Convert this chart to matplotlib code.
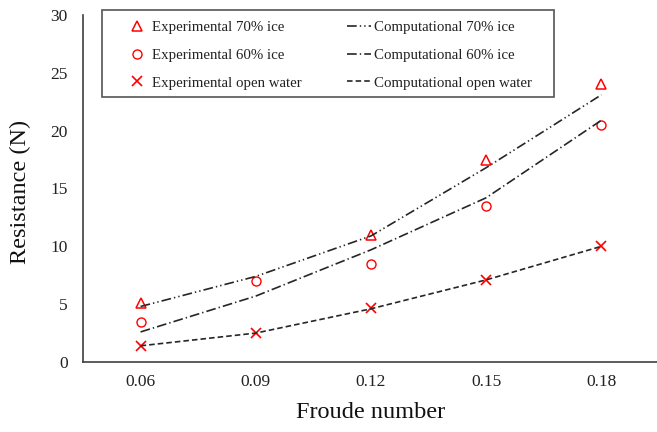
import numpy as np
import matplotlib.pyplot as plt
from matplotlib.patches import Rectangle

# data
froude = ['0.06', '0.09', '0.12', '0.15', '0.18']
exp_70 = [5.1, np.nan, 11.0, 17.5, 24.0]
exp_60 = [3.5, 7.0, 8.5, 13.5, 20.5]
exp_ow = [1.4, 2.5, 4.7, 7.1, 10.0]
comp_70 = [4.8, 7.4, 10.9, 16.8, 23.1]
comp_60 = [2.6, 5.7, 9.7, 14.2, 20.9]
comp_ow = [1.4, 2.5, 4.6, 7.1, 10.0]

plt.rcParams['font.family'] = ['Liberation Serif', 'DejaVu Serif']
plt.rcParams['lines.scale_dashes'] = False

fig = plt.figure(figsize=(6.57, 4.32), dpi=100, facecolor='white')
ax = fig.add_axes([83 / 657, 1 - 362 / 432, 576 / 657, 347 / 432])

x = np.arange(len(froude))
line_c = '#262626'
red = '#FF0000'

h_e70, = ax.plot(x, exp_70, linestyle='none', marker='^', ms=7, mfc='none', mec=red, mew=1.1)
h_e60, = ax.plot(x, exp_60, linestyle='none', marker='o', ms=6.5, mfc='none', mec=red, mew=1.0)
h_eow, = ax.plot(x, exp_ow, linestyle='none', marker='x', ms=7, color=red, mew=1.2)

h_c70, = ax.plot(x, comp_70, color=line_c, lw=1.2, dashes=(7, 2.2, 1, 2.2, 1, 2.2))
h_c60, = ax.plot(x, comp_60, color=line_c, lw=1.2, dashes=(7, 2.2, 1, 2.2))
h_cow, = ax.plot(x, comp_ow, color=line_c, lw=1.2, dashes=(4, 2.2))

ax.set_xlim(-0.5, 4.5)
ax.set_ylim(0, 30)
ax.set_xticks(x)
ax.set_xticklabels(froude)
ax.set_yticks(np.arange(0, 31, 5))
ax.tick_params(axis='both', length=0, labelsize=12.5, colors='#222222')
ax.tick_params(axis='y', pad=11)
ax.tick_params(axis='x', pad=9)

for side in ['top', 'right']:
    ax.spines[side].set_visible(False)
for side in ['left', 'bottom']:
    ax.spines[side].set_color('#404040')
    ax.spines[side].set_linewidth(1.2)

fig.text(20 / 657, 1 - 192 / 432, 'Resistance (N)', rotation=90, fontsize=17.5,
         ha='center', va='center', color='#111111')
fig.text(371 / 657, 1 - 413 / 432, 'Froude number', fontsize=17.5,
         ha='center', va='center', color='#111111')

leg = fig.legend([h_e70, h_e60, h_eow, h_c70, h_c60, h_cow],
                 ['Experimental 70% ice', 'Experimental 60% ice', 'Experimental open water',
                  'Computational 70% ice', 'Computational 60% ice', 'Computational open water'],
                 ncol=2, loc='upper left', bbox_to_anchor=(125 / 657, 1 - 20.5 / 432),
                 frameon=False, fontsize=10.7, borderpad=0, borderaxespad=0,
                 handlelength=1.6, handletextpad=0.25, labelspacing=0.97,
                 columnspacing=3.0)
for t in leg.get_texts():
    t.set_color('#222222')

# legend frame drawn separately so it can have wider side padding
fig.patches.append(Rectangle((102 / 657, 1 - 97 / 432), 452 / 657, 87 / 432,
                             transform=fig.transFigure, fill=False,
                             edgecolor='#555555', linewidth=1.2))

fig.savefig('out.png', dpi=100, facecolor='white')
